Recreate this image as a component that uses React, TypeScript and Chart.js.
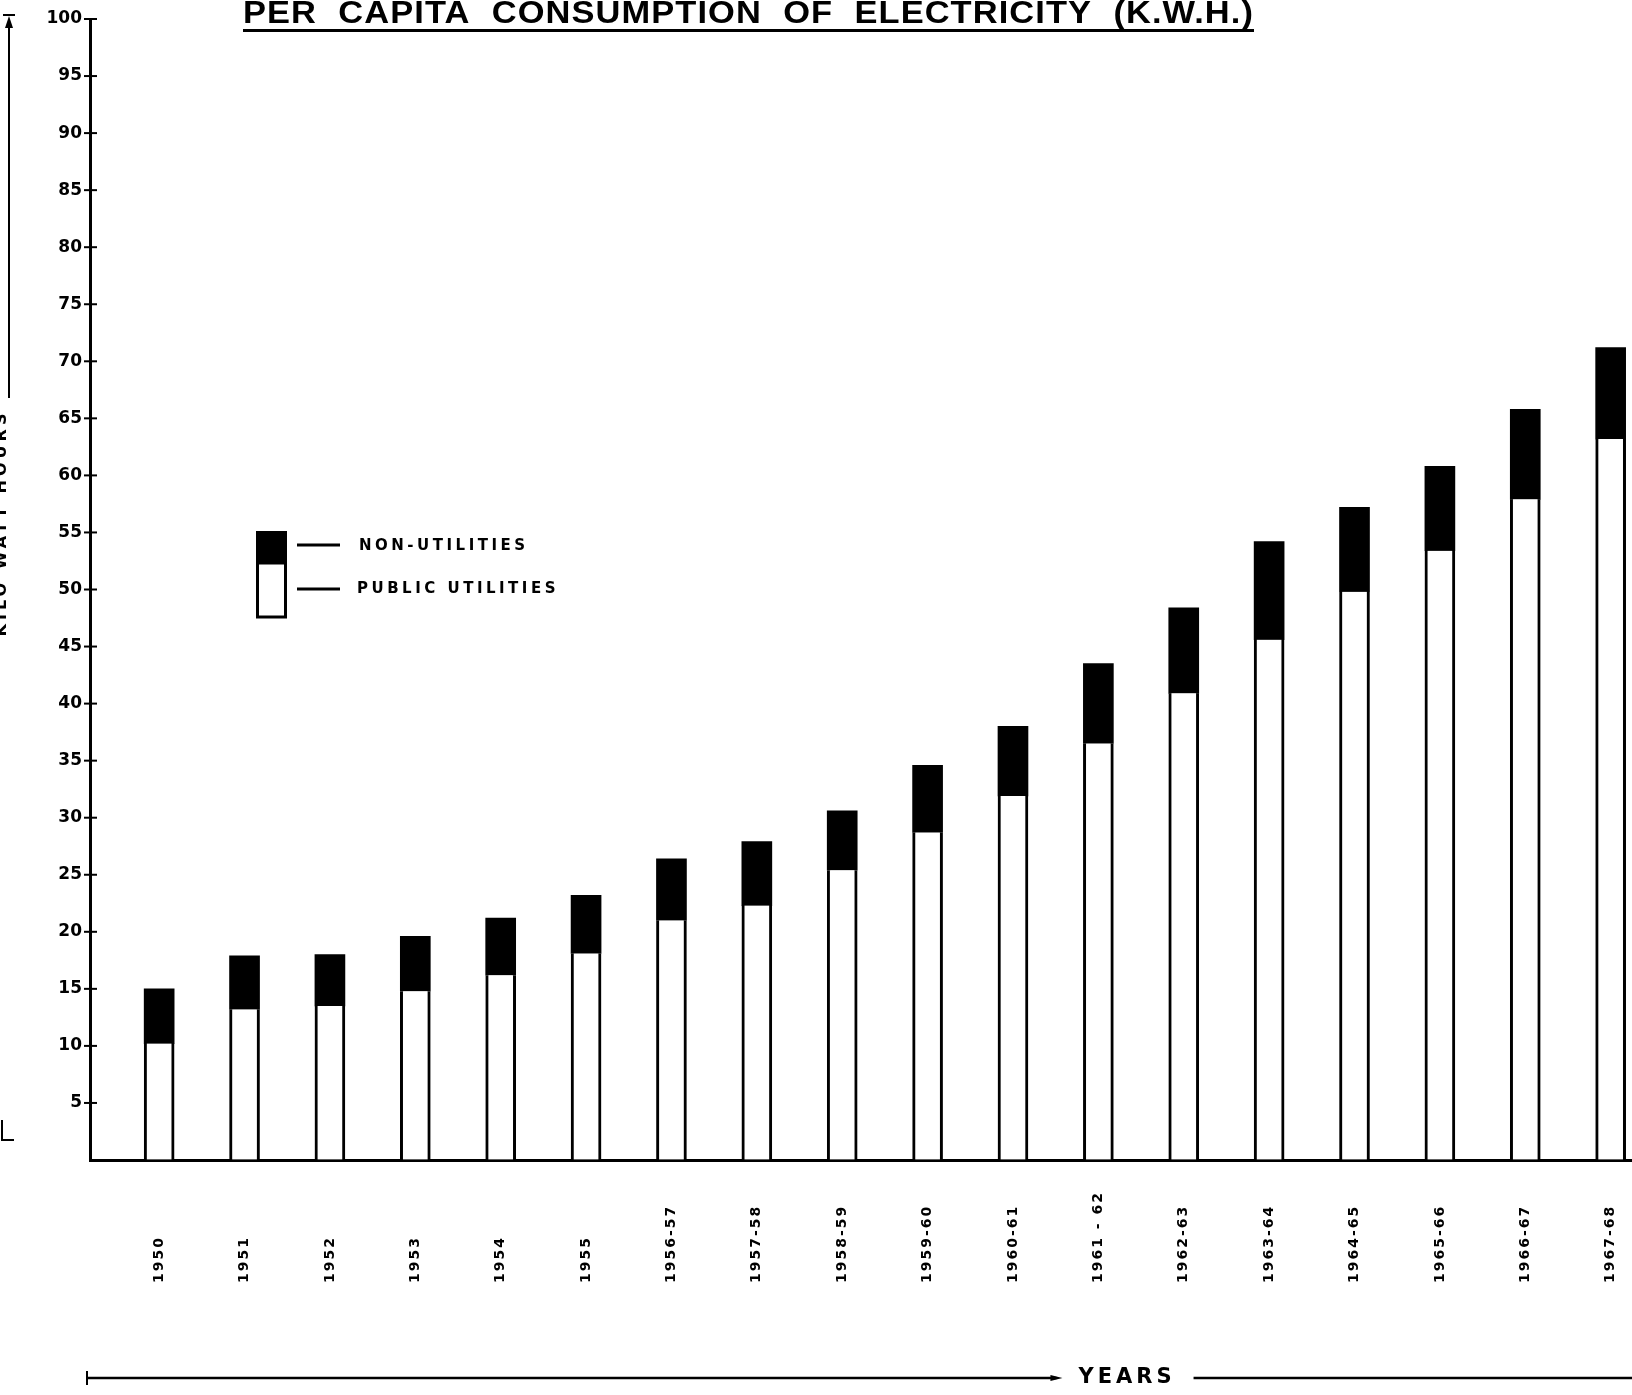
import { useEffect, useRef } from 'react';
import { Chart, registerables } from 'chart.js';

Chart.register(...registerables);

const titleText = 'PER  CAPITA  CONSUMPTION  OF  ELECTRICITY  (K.W.H.)';
const yTitle = 'KILO WATT HOURS';
const xTitle = 'YEARS';

const years = [
  '1950', '1951', '1952', '1953', '1954', '1955', '1956-57', '1957-58', '1958-59',
  '1959-60', '1960-61', '1961 - 62', '1962-63', '1963-64', '1964-65', '1965-66', '1966-67', '1967-68',
];

const publicUtilities = [10.2, 13.2, 13.5, 14.8, 16.2, 18.1, 21.0, 22.3, 25.4, 28.7, 31.9, 36.5, 40.9, 45.6, 49.8, 53.4, 57.9, 63.2];
const nonUtilities = [4.8, 4.7, 4.5, 4.8, 5.0, 5.1, 5.4, 5.6, 5.2, 5.9, 6.1, 7.0, 7.5, 8.6, 7.4, 7.4, 7.9, 8.0];

const seriesLabels = ['PUBLIC UTILITIES', 'NON-UTILITIES'];

const yMin = 0;
const yMax = 100;
const yStep = 5;

const decor = {
  id: 'decor',
  afterDraw(chart: any) {
    const ctx = chart.ctx as CanvasRenderingContext2D;
    const xs = chart.scales.x;
    const ys = chart.scales.y;
    const area = chart.chartArea;
    ctx.save();
    ctx.fillStyle = '#000';
    ctx.strokeStyle = '#000';

    // crossing ticks on the y axis
    ctx.lineWidth = 2;
    ys.ticks.forEach((t: any) => {
      if (t.value === 0) return;
      const py = ys.getPixelForValue(t.value);
      ctx.beginPath();
      ctx.moveTo(area.left - 6, py);
      ctx.lineTo(area.left + 7, py);
      ctx.stroke();
    });

    // rotated category labels
    ctx.font = 'bold 14px "DejaVu Sans"';
    (ctx as any).letterSpacing = '2px';
    ctx.textAlign = 'left';
    ctx.textBaseline = 'middle';
    years.forEach((lab, i) => {
      const px = xs.getPixelForValue(i);
      ctx.save();
      ctx.translate(px, area.bottom + 123);
      ctx.rotate(-Math.PI / 2);
      ctx.fillText(lab, 0, 0);
      ctx.restore();
    });

    // x axis title with lines
    ctx.font = 'bold 21px "DejaVu Sans"';
    (ctx as any).letterSpacing = '4px';
    ctx.textAlign = 'center';
    const tx = 1125;
    const ty = 1378;
    ctx.fillText(xTitle, tx + 2, ty);
    const half = ctx.measureText(xTitle).width / 2;
    ctx.lineWidth = 2.5;
    ctx.beginPath();
    ctx.moveTo(area.left - 4, ty);
    ctx.lineTo(tx - half - 20, ty);
    ctx.moveTo(tx + half + 20, ty);
    ctx.lineTo(chart.width, ty);
    ctx.stroke();
    ctx.beginPath();
    ctx.moveTo(tx - half - 14, ty);
    ctx.lineTo(tx - half - 26, ty - 3);
    ctx.lineTo(tx - half - 26, ty + 3);
    ctx.closePath();
    ctx.fill();
    ctx.lineWidth = 2;
    ctx.beginPath();
    ctx.moveTo(area.left - 3, ty - 7);
    ctx.lineTo(area.left - 3, ty + 7);
    ctx.stroke();

    // title
    ctx.font = 'bold 32px "Liberation Sans"';
    (ctx as any).letterSpacing = '1px';
    ctx.textAlign = 'left';
    ctx.textBaseline = 'alphabetic';
    const tw = ctx.measureText(titleText).width;
    ctx.save();
    ctx.translate(243, 23);
    ctx.scale(1011 / tw, 1);
    ctx.fillText(titleText, 0, 0);
    ctx.restore();
    ctx.fillRect(243, 29, 1011, 3);

    // y axis title (partly off the page)
    ctx.font = 'bold 16px "DejaVu Sans"';
    (ctx as any).letterSpacing = '4px';
    ctx.textAlign = 'center';
    ctx.textBaseline = 'middle';
    ctx.save();
    ctx.translate(2, 523);
    ctx.rotate(-Math.PI / 2);
    ctx.fillText(yTitle, 0, 0);
    ctx.restore();
    ctx.lineWidth = 2;
    ctx.beginPath();
    ctx.moveTo(9, 22);
    ctx.lineTo(9, 398);
    ctx.moveTo(3, 15);
    ctx.lineTo(15, 15);
    ctx.stroke();
    ctx.beginPath();
    ctx.moveTo(9, 16);
    ctx.lineTo(5, 28);
    ctx.lineTo(13, 28);
    ctx.closePath();
    ctx.fill();
    ctx.beginPath();
    ctx.moveTo(2, 1120);
    ctx.lineTo(2, 1140);
    ctx.lineTo(14, 1140);
    ctx.stroke();

    // legend
    const ds = chart.data.datasets;
    ctx.fillRect(256, 531, 31, 33);
    ctx.lineWidth = 3;
    ctx.strokeRect(257.5, 563, 28, 54);
    ctx.beginPath();
    ctx.moveTo(297, 545);
    ctx.lineTo(340, 545);
    ctx.moveTo(297, 589);
    ctx.lineTo(340, 589);
    ctx.stroke();
    ctx.font = 'bold 15px "DejaVu Sans"';
    (ctx as any).letterSpacing = '3.5px';
    ctx.textAlign = 'left';
    ctx.textBaseline = 'middle';
    ctx.fillText(ds[1].label, 359, 546);
    ctx.fillText(ds[0].label, 357, 589);

    ctx.restore();
  },
};

export default function App() {
  const ref = useRef<HTMLCanvasElement | null>(null);

  useEffect(() => {
    if (!ref.current) return;
    const chart = new Chart(ref.current, {
      type: 'bar',
      data: {
        datasets: [
          {
            label: seriesLabels[0],
            data: publicUtilities.map((v, i) => ({ x: i, y: v })),
            backgroundColor: '#ffffff',
            borderColor: '#000000',
            borderWidth: { left: 3, right: 3, top: 0, bottom: 0 },
            borderSkipped: false,
            barThickness: 30,
          },
          {
            label: seriesLabels[1],
            data: nonUtilities.map((v, i) => ({ x: i, y: v })),
            backgroundColor: '#000000',
            borderWidth: 0,
            barThickness: 30,
          },
        ],
      } as any,
      options: {
        animation: false,
        responsive: false,
        devicePixelRatio: 1,
        layout: { padding: { top: 19, left: 0, right: 0, bottom: 0 } },
        plugins: {
          legend: { display: false },
          tooltip: { enabled: false },
          title: { display: false },
        },
        scales: {
          x: {
            type: 'linear',
            min: -0.81,
            max: 17.25,
            offset: false,
            stacked: true,
            ticks: { display: false },
            grid: { drawOnChartArea: false, drawTicks: false },
            border: { color: '#000', width: 3 },
            afterFit: (scale: any) => {
              scale.height = 235;
            },
          },
          y: {
            min: yMin,
            max: yMax,
            stacked: true,
            ticks: {
              stepSize: yStep,
              padding: 8,
              color: '#000',
              font: { family: 'DejaVu Sans', size: 17, weight: 'bold' },
              callback: (v: any) => (v === 0 ? '' : String(v)),
            },
            grid: { drawOnChartArea: false, drawTicks: false },
            border: { color: '#000', width: 3 },
            afterFit: (scale: any) => {
              scale.width = 90;
            },
          },
        },
      } as any,
      plugins: [decor],
    });
    return () => chart.destroy();
  }, []);

  return (
    <div style={{ position: 'fixed', left: 0, top: 0, width: 1632, height: 1395, background: '#fff' }}>
      <canvas ref={ref} width={1632} height={1395} style={{ display: 'block' }} />
    </div>
  );
}
